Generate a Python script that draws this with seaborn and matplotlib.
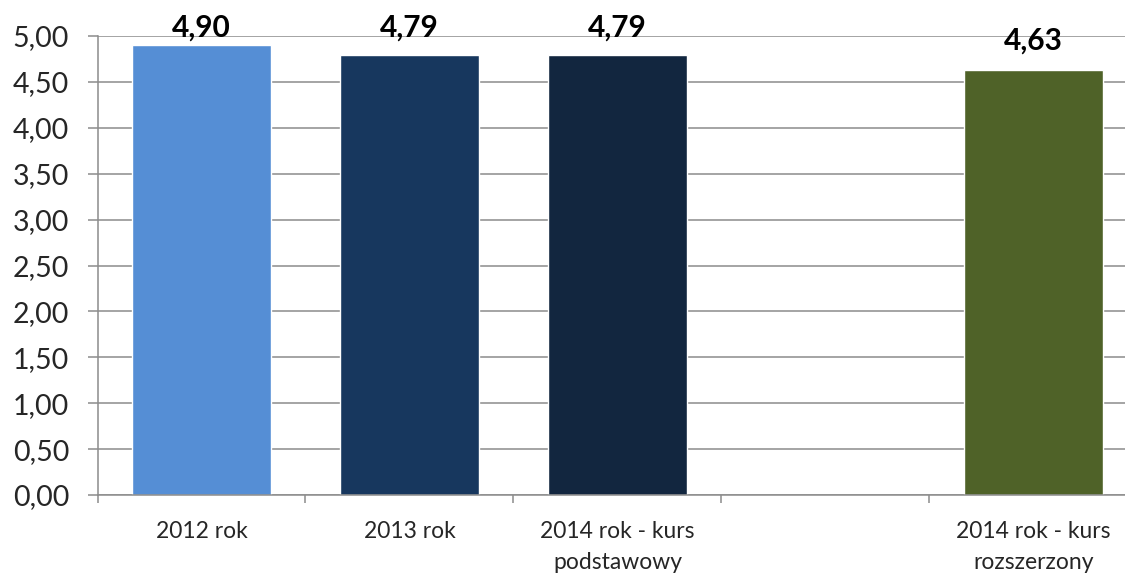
import numpy as np
import pandas as pd
import matplotlib
matplotlib.use("Agg")
import matplotlib.pyplot as plt
from matplotlib.ticker import FixedLocator
import seaborn as sns

# Average grades by year / course level
categories = ["2012 rok", "2013 rok", "2014 rok - kurs\npodstawowy", "", "2014 rok - kurs\nrozszerzony"]
values = [4.90, 4.79, 4.79, np.nan, 4.63]
bar_colors = ["#558ED5", "#17375E", "#12263F", "#FFFFFF", "#4F6228"]
yticks = [0.0, 0.5, 1.0, 1.5, 2.0, 2.5, 3.0, 3.5, 4.0, 4.5, 5.0]

sns.set_theme(style="white")
plt.rcParams["font.family"] = ["Lato", "DejaVu Sans"]

df = pd.DataFrame({"kat": categories, "wartosc": values}).dropna()
palette = dict(zip(categories, bar_colors))

fig = plt.figure(figsize=(11.25, 5.74), dpi=100)
ax = fig.add_axes([97.5 / 1125, 79 / 574, 1 - 97.5 / 1125, 459 / 574])

sns.barplot(data=df, x="kat", y="wartosc", hue="kat", order=categories,
            palette=palette, width=0.67, legend=False, ax=ax, saturation=1)

ax.set_xlim(-0.5, 4.44)
ax.set_ylim(0, 5)
ax.set_xlabel("")
ax.set_ylabel("")

grid_c = "#8C8C8C"
ax.set_yticks(yticks)
ax.set_yticklabels([f"{t:.2f}".replace(".", ",") for t in yticks], fontsize=20.5)
ax.yaxis.grid(True, color=grid_c, linewidth=1.1)
ax.set_axisbelow(True)
ax.tick_params(axis="y", length=7.5, width=1.1, color=grid_c, pad=13, left=True)

ax.set_xticks(range(len(categories)))
ax.set_xticklabels(categories, fontsize=16.5, linespacing=1.55)
ax.tick_params(axis="x", which="major", length=0, pad=19)
ax.xaxis.set_minor_locator(FixedLocator(np.arange(-0.5, 5.0, 1.0)))
ax.tick_params(axis="x", which="minor", length=6, width=1.1, color=grid_c, bottom=True)

for s in ["top", "right"]:
    ax.spines[s].set_visible(False)
for s in ["left", "bottom"]:
    ax.spines[s].set_color(grid_c)
    ax.spines[s].set_linewidth(1.1)

# Value labels above bars, kept inside the chart top
for i, v in enumerate(values):
    if np.isnan(v):
        continue
    y = min(v + 0.22, 4.99)
    ax.text(i, y, f"{v:.2f}".replace(".", ","), ha="center", va="baseline",
            fontsize=21.5, fontweight="bold", color="black", clip_on=False)

fig.savefig("out.png", dpi=100)
